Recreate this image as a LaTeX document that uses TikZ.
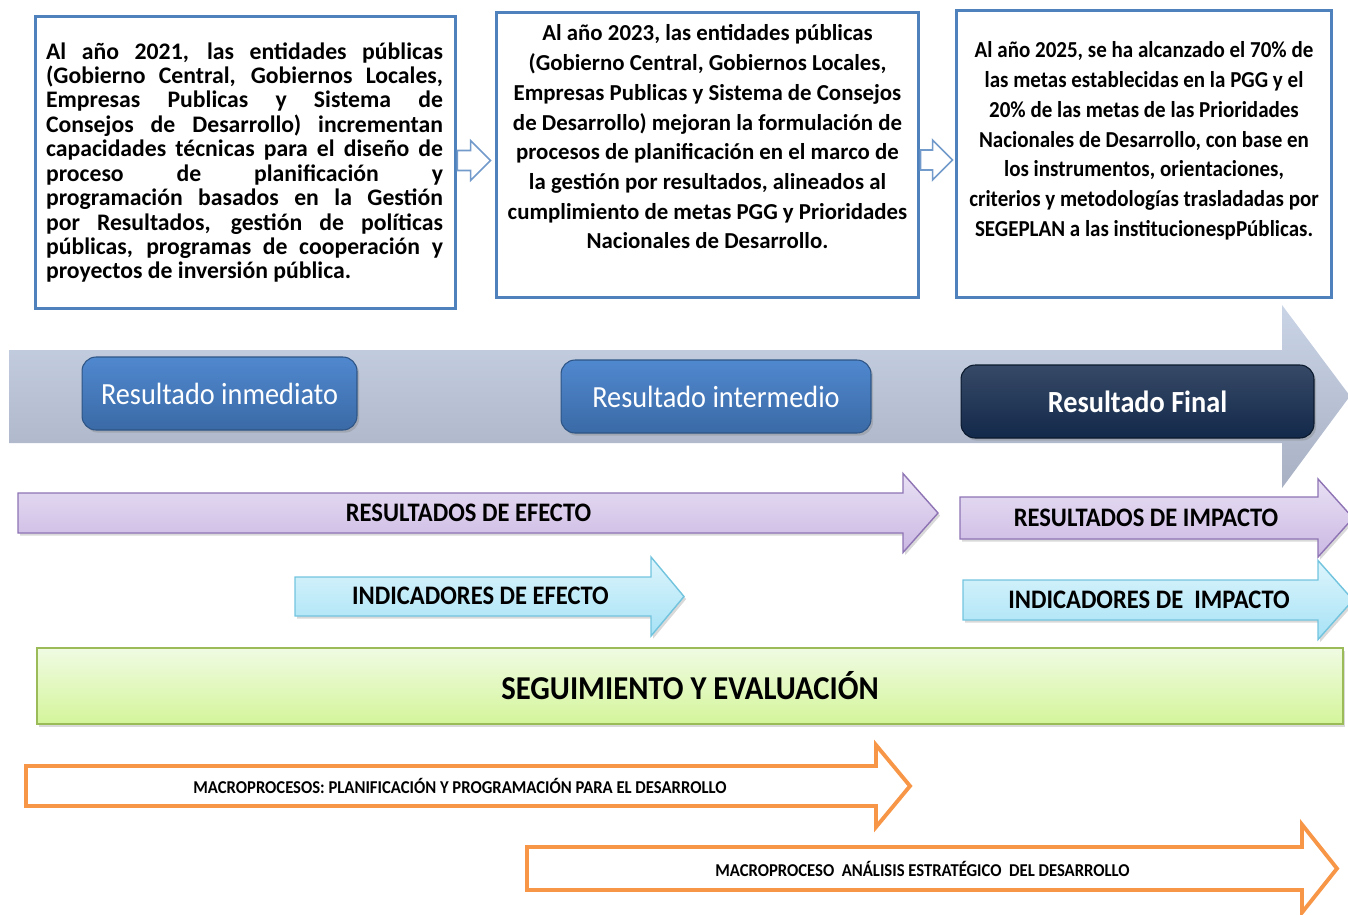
\documentclass[tikz,border=0pt]{standalone}
\usepackage{fontspec}
\setmainfont{Carlito}[FakeStretch=0.92]
\newfontfamily\widefont{Carlito}
\usetikzlibrary{positioning,calc,shadows}
\definecolor{boxblue}{HTML}{4F81BD}
\definecolor{btntop}{HTML}{5088CF}
\definecolor{btnbot}{HTML}{3A6AA6}
\definecolor{navy}{HTML}{13294B}
\definecolor{bandtop}{HTML}{CAD4E7}
\definecolor{bandbot}{HTML}{A8B1C3}
\definecolor{lilatop}{HTML}{E8E0F4}
\definecolor{lilabot}{HTML}{CBB8E3}
\definecolor{lilaline}{HTML}{8E74B4}
\definecolor{cyantop}{HTML}{DDF5FC}
\definecolor{cyanbot}{HTML}{A6E2F6}
\definecolor{cyanline}{HTML}{72C4DE}
\definecolor{greentop}{HTML}{F0FBE3}
\definecolor{greenbot}{HTML}{D4F59A}
\definecolor{greenline}{HTML}{9BBB59}
\definecolor{macroorange}{HTML}{F79646}
\tikzset{
  metabox/.style={draw=boxblue, line width=1.7pt, fill=white, inner sep=0pt},
  metatext/.style={font=\bfseries\fontsize{13}{16.9}\selectfont, align=center, inner sep=0pt},
  hollowarr/.style={draw=boxblue!80, fill=white, line width=0.9pt, line join=miter,
    to path={($(\tikztostart)+(0,-10)$) -- ($(\tikztotarget)+(-20,-10)$)
      -- ($(\tikztotarget)+(-20,-20)$) -- (\tikztotarget) -- ($(\tikztotarget)+(-20,20)$)
      -- ($(\tikztotarget)+(-20,10)$) -- ($(\tikztostart)+(0,10)$) -- cycle}},
  resbtn/.style={rounded corners=8pt, draw=btnbot!80!black, line width=0.6pt,
    top color=btntop, bottom color=btnbot, text=white, minimum height=1.46cm,
    font=\fontsize{17.5}{20}\selectfont,
    drop shadow={opacity=0.35, shadow xshift=1.2pt, shadow yshift=-1.5pt}},
  lilaarr/.style={draw=lilaline, line width=0.8pt, top color=lilatop, bottom color=lilabot,
    drop shadow={opacity=0.3, shadow xshift=1.2pt, shadow yshift=-1.5pt}},
  cyanarr/.style={draw=cyanline, line width=0.8pt, top color=cyantop, bottom color=cyanbot,
    drop shadow={opacity=0.3, shadow xshift=1.2pt, shadow yshift=-1.5pt}},
  macroarr/.style={draw=macroorange, line width=2.2pt, fill=white, line join=miter},
  arrlab/.style={font=\bfseries\fontsize{15.2}{18}\selectfont, inner sep=0pt},
  macrolab/.style={font=\bfseries\fontsize{10.3}{12}\selectfont, inner sep=0pt},
}
% fat arrow: style, x start, x head, x tip, y centre, half shaft, half head
\newcommand\fatarrow[7]{%
  \path[#1] (#2,#5-#6) -- (#3,#5-#6) -- (#3,#5-#7) -- (#4,#5)
    -- (#3,#5+#7) -- (#3,#5+#6) -- (#2,#5+#6) -- cycle;}
\begin{document}
\begin{tikzpicture}[x=0.02cm,y=-0.02cm]
\useasboundingbox (0,0) rectangle (1348,914);

% goal boxes
\node[metabox, minimum width=8.42cm, minimum height=5.86cm] (b21) at (245.5,162.5) {};
\node[font=\widefont\bfseries\fontsize{13.5}{13.9}\selectfont, text width=7.94cm, align=justify, inner sep=0pt]
  (t21) at ($(b21.center)+(-1,0)$) {Al año 2021, las entidades públicas\linebreak
  (Gobierno Central, Gobiernos Locales,\linebreak
  Empresas Publicas y Sistema de\linebreak
  Consejos de Desarrollo) incrementan\linebreak
  capacidades técnicas para el diseño de\linebreak
  proceso de planificación y\linebreak
  programación basados en la Gestión\linebreak
  por Resultados, gestión de políticas\linebreak
  públicas, programas de cooperación y\linebreak
  proyectos de inversión pública.};
\node[metabox, minimum width=8.46cm, minimum height=5.72cm] (b23) at (707.5,155) {};
\node[metatext, font=\widefont\bfseries\fontsize{13}{16.9}\selectfont, anchor=north] (t23) at ($(b23.north)+(0,14)$)
  {Al año 2023, las entidades públicas\\
   (Gobierno Central, Gobiernos Locales,\\
   Empresas Publicas y Sistema de Consejos\\
   de Desarrollo) mejoran la formulación de\\
   procesos de planificación en el marco de\\
   la gestión por resultados, alineados al\\
   cumplimiento de metas PGG y Prioridades\\
   Nacionales de Desarrollo.};
\node[metabox, minimum width=7.52cm, minimum height=5.76cm] (b25) at (1144,154) {};
\node[metatext, anchor=north] (t25) at ($(b25.north)+(0,33)$)
  {Al año 2025, se ha alcanzado el 70\% de\\
   las metas establecidas en la PGG y el\\
   20\% de las metas de las Prioridades\\
   Nacionales de Desarrollo, con base en\\
   los instrumentos, orientaciones,\\
   criterios y metodologías trasladadas por\\
   SEGEPLAN a las institucionespPúblicas.};
\coordinate (e23) at ($(b21.east -| b23.west)+(-4,-2)$);
\coordinate (s25) at ($(b23.east)+(0,5)$);
\coordinate (e25) at ($(s25 -| b25.west)+(-2,0)$);
\draw[hollowarr] ($(b21.east)+(0,-2)$) to (e23);
\draw[hollowarr] (s25) to (e25);

% time band
\shade[top color=bandtop, bottom color=bandbot] (9,350) -- (1282,350) -- (1282,305)
  -- (1350,396) -- (1282,488) -- (1282,443) -- (9,443) -- cycle;
\node[resbtn, minimum width=5.5cm] (inm) at (219.5,393.5) {Resultado inmediato};
\node[resbtn, minimum width=6.2cm] (int) at (716,396.5) {Resultado intermedio};
\node[resbtn, minimum width=7.06cm, top color=navy!85!white, bottom color=navy, draw=navy!60!black,
  font=\bfseries\fontsize{17.5}{20}\selectfont] (fin) at (1137.5,401.5) {Resultado Final};

% results and indicators
\fatarrow{lilaarr}{18}{903}{938}{513}{20}{39.5}
\fatarrow{lilaarr}{960}{1318}{1353}{518}{21}{39}
\fatarrow{cyanarr}{295}{651}{684}{596.5}{19.5}{39.5}
\fatarrow{cyanarr}{963}{1318}{1353}{600}{20}{39.5}
\node[arrlab] (refe) at (468.5,513) {RESULTADOS DE EFECTO};
\node[arrlab] (rimp) at (1146,518) {RESULTADOS DE IMPACTO};
\node[arrlab] (iefe) at (480.5,596) {INDICADORES DE EFECTO};
\node[arrlab] (iimp) at (1149,600) {INDICADORES DE~~IMPACTO};

% monitoring
\node[draw=greenline, line width=0.8pt, top color=greentop, bottom color=greenbot,
  minimum width=26.12cm, minimum height=1.52cm,
  drop shadow={opacity=0.3, shadow xshift=1.2pt, shadow yshift=-1.5pt},
  font=\bfseries\fontsize{19}{22}\selectfont] (segu) at (690,686) {SEGUIMIENTO Y EVALUACIÓN};

% macroprocesses
\fatarrow{macroarr}{26}{876}{910}{786}{20}{41}
\fatarrow{macroarr}{527}{1302}{1337}{868.5}{21.5}{44}
\node[macrolab] (mplan) at (460,786) {MACROPROCESOS: PLANIFICACIÓN Y PROGRAMACIÓN PARA EL DESARROLLO};
\node[macrolab] (manal) at (922.5,869) {MACROPROCESO~~ANÁLISIS ESTRATÉGICO~~DEL DESARROLLO};
\end{tikzpicture}
\end{document}
